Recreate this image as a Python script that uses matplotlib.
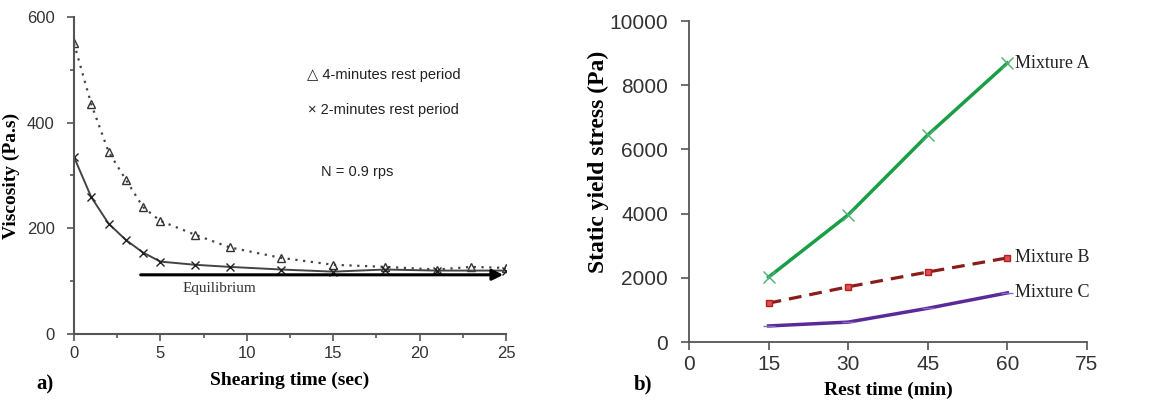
import matplotlib
matplotlib.use("Agg")
import matplotlib.pyplot as plt
from matplotlib.ticker import MultipleLocator

# a) viscosity vs shearing time
t4 = [0, 1, 2, 3, 4, 5, 7, 9, 12, 15, 18, 21, 23, 25]
visc4 = [550, 435, 345, 292, 240, 214, 188, 164, 144, 131, 127, 122, 127, 125]
t2 = [0, 1, 2, 3, 4, 5, 7, 9, 12, 15, 18, 21, 25]
visc2 = [335, 259, 209, 178, 154, 137, 131, 127, 122, 118, 122, 120, 120]
equilibrium = 112

# b) static yield stress vs rest time
rest = [15, 30, 45, 60]
mix_a = [2020, 3960, 6450, 8690]
mix_b = [1210, 1720, 2180, 2620]
mix_c = [500, 620, 1050, 1530]

serif = "Liberation Serif"
sans = ["Liberation Sans", "DejaVu Sans"]
axis_grey = "#555555"

fig = plt.figure(figsize=(11.67, 4.07), dpi=100)

# ---------- panel a ----------
ax1 = fig.add_axes([0.0634, 0.1794, 0.3702, 0.7789])
ax1.plot(t4, visc4, color="#444444", ls=(0, (1, 2.5)), lw=1.6,
         marker="^", mfc="none", mec="#333333", ms=6)
ax1.plot(t2, visc2, color="#444444", ls="-", lw=1.4,
         marker="x", mec="#222222", ms=6)
ax1.annotate("", xy=(25, equilibrium), xytext=(3.7, equilibrium),
             arrowprops=dict(arrowstyle="-|>", color="black", lw=2.2,
                             mutation_scale=16))
ax1.text(8.4, 87, "Equilibrium", family=serif, fontsize=11,
         color="#333333", ha="center", va="center")
ax1.text(17.9, 490, "\u25b3 4-minutes rest period", family=sans, fontsize=10.5,
         ha="center", va="center", color="#222222")
ax1.text(17.9, 424, "\u00d7 2-minutes rest period", family=sans, fontsize=10.5,
         ha="center", va="center", color="#222222")
ax1.text(16.4, 307, "N = 0.9 rps", family=sans, fontsize=10.5,
         ha="center", va="center", color="#222222")

ax1.set_xlim(0, 25)
ax1.set_ylim(0, 600)
ax1.xaxis.set_major_locator(MultipleLocator(5))
ax1.xaxis.set_minor_locator(MultipleLocator(2.5))
ax1.yaxis.set_major_locator(MultipleLocator(200))
ax1.yaxis.set_minor_locator(MultipleLocator(100))
for s in ["top", "right"]:
    ax1.spines[s].set_visible(False)
for s in ["left", "bottom"]:
    ax1.spines[s].set_color(axis_grey)
    ax1.spines[s].set_linewidth(1.5)
ax1.tick_params(which="both", color=axis_grey, width=1.2, direction="out")
ax1.tick_params(which="major", length=5, labelsize=12, labelcolor="#333333")
ax1.tick_params(axis="y", which="major", pad=9)
ax1.tick_params(which="minor", length=3)
for lab in ax1.get_xticklabels() + ax1.get_yticklabels():
    lab.set_family(sans)
ax1.set_xlabel("Shearing time (sec)", family=serif, fontweight="bold",
               fontsize=14, labelpad=8)
ax1.set_ylabel("Viscosity (Pa.s)", family=serif, fontweight="bold",
               fontsize=14, labelpad=5)
fig.text(0.031, 0.043, "a)", family=serif, fontweight="bold", fontsize=15)

# ---------- panel b ----------
ax2 = fig.add_axes([0.5904, 0.1597, 0.3410, 0.7887])
ax2.plot(rest, mix_a, color="#1a9e45", lw=2.5, marker="x", ms=8,
         mec="#4caf72")
ax2.plot(rest, mix_b, color="#8b1c1c", lw=2.3, ls=(0, (4, 2.5)),
         marker="s", ms=5, mfc="#e05050", mec="#b02020")
ax2.plot(rest, mix_c, color="#5b2a9a", lw=2.5, marker="_", ms=8,
         mec="#8a6cc0")
for y, name in zip([mix_a[-1], mix_b[-1], mix_c[-1]],
                   ["Mixture A", "Mixture B", "Mixture C"]):
    ax2.text(61.5, y, name, family=serif, fontsize=13,
             ha="left", va="center", color="#222222")

ax2.set_xlim(0, 75)
ax2.set_ylim(0, 10000)
ax2.set_xticks([0, 15, 30, 45, 60, 75])
ax2.set_yticks([0, 2000, 4000, 6000, 8000, 10000])
for s in ["top", "right"]:
    ax2.spines[s].set_visible(False)
for s in ["left", "bottom"]:
    ax2.spines[s].set_color(axis_grey)
    ax2.spines[s].set_linewidth(1.3)
ax2.tick_params(color=axis_grey, width=1.2, length=6, direction="out",
                labelsize=15, labelcolor="#333333")
ax2.tick_params(axis="x", pad=3)
ax2.tick_params(axis="y", pad=9)
for lab in ax2.get_xticklabels() + ax2.get_yticklabels():
    lab.set_family(sans)
ax2.set_xlabel("Rest time (min)", family=serif, fontweight="bold",
               fontsize=14, labelpad=6)
ax2.set_ylabel("Static yield stress (Pa)", family=serif, fontweight="bold",
               fontsize=17)
ax2.yaxis.set_label_coords(-0.20, 0.56)
fig.text(0.543, 0.043, "b)", family=serif, fontweight="bold", fontsize=15)

fig.savefig("out.png", dpi=100)
